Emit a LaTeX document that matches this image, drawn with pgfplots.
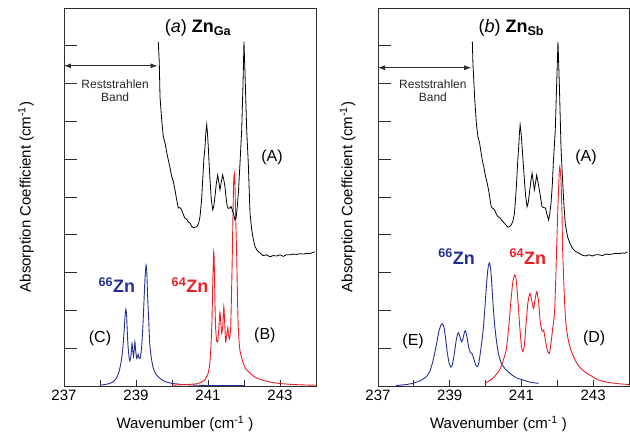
\documentclass[border=0pt]{standalone}
\usepackage{fontspec}
\setmainfont{Liberation Sans}
\usepackage{pgfplots}
\pgfplotsset{compat=1.18}
\usetikzlibrary{arrows.meta}

\definecolor{zblue}{RGB}{38,48,148}
\definecolor{zred}{RGB}{236,30,38}
\definecolor{frame}{RGB}{45,45,45}

\pgfplotsset{
  panel/.style={
    scale only axis,
    width=252pt, height=378pt,
    xmin=237, xmax=244, ymin=0, ymax=10,
    xtick={237,...,244},
    xticklabels={237,,239,,241,,243,},
    ytick={1,...,9},
    yticklabels={},
    xtick pos=left,
    ytick pos=left,
    tick align=inside,
    major tick length=6pt,
    axis line style={frame, line width=0.9pt},
    every tick/.style={frame, line width=0.9pt},
    tick label style={font=\fontsize{15}{18}\selectfont},
    /pgf/number format/assume math mode=true,
    label style={font=\fontsize{15}{18}\selectfont},
    xlabel={Wavenumber (cm\textsuperscript{-1} )},
    ylabel={Absorption Coefficient (cm\textsuperscript{-1})},
    xlabel style={at={(axis description cs:0.48,-0.1)}, anchor=center},
  },
  spec/.style={black, line width=0.8pt},
  syn/.style={line width=0.9pt, smooth, tension=0.35},
}

\begin{document}
\begin{tikzpicture}
\useasboundingbox (0,0) rectangle (630pt,437pt);

% ---------------- (a) Zn_Ga ----------------
\begin{axis}[panel, at={(64pt,51pt)}, anchor=south west,
  ylabel style={at={(axis description cs:-0.151,0.5)}, anchor=center}]

% longer y ticks
\pgfplotsinvokeforeach{1,...,9}{\draw[frame, line width=0.9pt] (axis cs:237,#1) -- (axis cs:237.36,#1);}

% (C) 66Zn calculated
\addplot[syn, zblue] coordinates {
(238.0,0.02) (238.2,0.05) (238.35,0.10) (238.45,0.20) (238.52,0.35)
(238.58,0.60) (238.63,0.95) (238.67,1.45) (238.70,1.90) (238.72,2.03)
(238.74,1.85) (238.76,1.40) (238.78,1.04) (238.81,0.75) (238.83,0.66)
(238.86,0.80) (238.89,1.13) (238.91,0.95) (238.93,0.78) (238.95,0.95)
(238.97,1.17) (238.99,0.95) (239.02,0.73) (239.04,0.78) (239.06,0.84)
(239.08,0.76) (239.11,0.72) (239.15,0.95) (239.19,1.55) (239.22,2.20)
(239.25,2.85) (239.28,3.20) (239.30,3.00) (239.32,2.45) (239.35,1.80)
(239.38,1.15) (239.42,0.78) (239.48,0.47) (239.56,0.30) (239.67,0.20)
(239.80,0.12) (240.0,0.07) (240.3,0.04) (240.7,0.02) (241.2,0.01) (242.0,0.01)
};

% (B) 64Zn calculated
\addplot[syn, zred] coordinates {
(240.0,0.02) (240.4,0.04) (240.7,0.06) (240.9,0.15) (241.0,0.32)
(241.05,0.60) (241.08,1.00) (241.11,1.70) (241.13,2.60) (241.15,3.40)
(241.16,3.55) (241.17,3.40) (241.19,2.40) (241.21,1.57) (241.24,1.20)
(241.27,1.17) (241.30,1.50) (241.33,1.95) (241.35,1.75) (241.38,1.39)
(241.41,1.60) (241.44,2.10) (241.46,1.75) (241.49,1.17) (241.52,1.35)
(241.55,1.55) (241.57,1.35) (241.60,1.25) (241.63,1.55) (241.65,2.30)
(241.67,3.20) (241.69,4.30) (241.71,5.30) (241.73,5.63) (241.75,5.30)
(241.77,4.40) (241.80,3.33) (241.82,2.30) (241.84,1.57) (241.87,1.10)
(241.90,0.88) (241.98,0.60) (242.05,0.45) (242.17,0.34) (242.30,0.24)
(242.49,0.16) (242.8,0.09) (243.2,0.05) (243.6,0.03) (244.0,0.02)
};

% (A) measured
\addplot[spec] coordinates {
(239.619,9.11) (239.647,8.55) (239.667,7.65) (239.714,7.04) (239.758,6.60)
(239.806,6.43) (239.85,6.20) (239.897,5.98) (239.94,5.80) (239.992,5.54)
(240.04,5.40) (240.083,5.19) (240.131,4.92) (240.175,4.71) (240.22,4.72)
(240.269,4.66) (240.32,4.52) (240.361,4.44) (240.42,4.40) (240.46,4.33)
(240.5,4.31) (240.55,4.22) (240.592,4.19) (240.64,4.20) (240.686,4.21)
(240.74,4.30) (240.778,4.48) (240.82,4.90) (240.853,5.45) (240.885,6.00)
(240.917,6.33) (240.94,6.70) (240.964,6.91) (240.985,6.70) (241.008,6.33)
(241.03,5.90) (241.056,5.45) (241.09,4.95) (241.131,4.66) (241.16,4.75)
(241.194,5.01) (241.23,5.35) (241.269,5.58) (241.30,5.40) (241.333,5.19)
(241.37,5.40) (241.408,5.58) (241.44,5.45) (241.472,5.27) (241.50,5.00)
(241.536,4.74) (241.57,4.70) (241.611,4.71) (241.64,4.75) (241.675,4.66)
(241.71,4.55) (241.75,4.39) (241.78,4.45) (241.814,4.74) (241.85,5.20)
(241.889,5.90) (241.936,6.77) (241.97,7.90) (242.0,9.11) (242.04,7.90)
(242.075,6.77) (242.119,5.90) (242.167,4.58) (242.214,4.13) (242.26,3.88)
(242.306,3.69) (242.37,3.58) (242.444,3.52) (242.53,3.45) (242.631,3.47)
(242.72,3.42) (242.81,3.45) (242.908,3.44) (243.0,3.47) (243.09,3.43)
(243.18,3.47) (243.278,3.47) (243.37,3.49) (243.46,3.48) (243.55,3.50)
(243.647,3.49) (243.74,3.51) (243.83,3.50) (243.90,3.53) (243.972,3.55)
};

\node[font=\fontsize{18}{20}\selectfont] at (axis cs:240.72,9.48) {(\textit{a}) \textbf{Zn\textsubscript{Ga}}};
\draw[{Latex[length=7pt,width=5pt]}-{Latex[length=7pt,width=5pt]}, line width=0.8pt, frame] (axis cs:237,8.47) -- (axis cs:239.6,8.47);
\node[align=center, font=\fontsize{12}{13}\selectfont, text=black!85] at (axis cs:238.42,7.80) {Reststrahlen\\Band};
\node[font=\fontsize{16}{18}\selectfont] at (axis cs:242.78,6.06) {(A)};
\node[font=\fontsize{16}{18}\selectfont] at (axis cs:242.58,1.35) {(B)};
\node[font=\fontsize{16}{18}\selectfont] at (axis cs:238.0,1.27) {(C)};
\node[font=\fontsize{18}{20}\selectfont\bfseries, text=zblue] at (axis cs:238.47,2.67) {\textsuperscript{66}Zn};
\node[font=\fontsize{18}{20}\selectfont\bfseries, text=zred] at (axis cs:240.5,2.67) {\textsuperscript{64}Zn};
\end{axis}

% ---------------- (b) Zn_Sb ----------------
\begin{axis}[panel, at={(378pt,51pt)}, anchor=south west, width=251pt,
  ylabel style={at={(axis description cs:-0.121,0.5)}, anchor=center}]

\pgfplotsinvokeforeach{1,...,9}{\draw[frame, line width=0.9pt] (axis cs:237,#1) -- (axis cs:237.36,#1);}

% (E) 66Zn calculated
\addplot[syn, zblue] coordinates {
(237.5,0.01) (237.8,0.04) (238.0,0.08) (238.2,0.15) (238.35,0.25)
(238.45,0.40) (238.54,0.69) (238.62,1.05) (238.70,1.45) (238.76,1.62)
(238.80,1.65) (238.84,1.55) (238.88,1.30) (238.93,0.90) (238.98,0.62)
(239.03,0.50) (239.07,0.55) (239.12,0.80) (239.18,1.20) (239.22,1.38)
(239.25,1.41) (239.29,1.28) (239.33,1.17) (239.37,1.25) (239.41,1.42)
(239.44,1.46) (239.48,1.30) (239.53,1.02) (239.58,0.88) (239.62,0.86)
(239.67,0.72) (239.73,0.55) (239.78,0.51) (239.82,0.65) (239.86,0.92)
(239.90,1.20) (239.94,1.55) (239.98,2.05) (240.02,2.60) (240.06,3.05)
(240.10,3.26) (240.13,3.18) (240.16,2.90) (240.20,2.28) (240.25,1.65)
(240.30,1.22) (240.36,0.85) (240.44,0.60) (240.55,0.45) (240.67,0.34)
(240.85,0.22) (241.04,0.16) (241.25,0.10) (241.48,0.07)
};

% (D) 64Zn calculated
\addplot[syn, zred] coordinates {
(240.0,0.08) (240.2,0.20) (240.39,0.42) (240.50,0.70) (240.58,0.98)
(240.65,1.60) (240.71,2.28) (240.76,2.75) (240.81,2.94) (240.85,2.85)
(240.90,2.30) (240.95,1.60) (241.00,1.05) (241.04,0.91) (241.08,1.05)
(241.13,1.65) (241.18,2.20) (241.24,2.45) (241.30,2.20) (241.34,2.05)
(241.39,2.35) (241.43,2.50) (241.48,2.20) (241.53,1.65) (241.58,1.45)
(241.62,1.48) (241.67,1.20) (241.73,0.92) (241.78,0.86) (241.82,1.10)
(241.87,1.50) (241.92,1.90) (241.95,2.60) (241.98,3.60) (242.02,4.80)
(242.05,5.55) (242.07,5.80) (242.10,5.50) (242.13,4.60) (242.15,3.60)
(242.20,2.30) (242.24,1.66) (242.30,1.25) (242.38,0.95) (242.50,0.68)
(242.61,0.51) (242.80,0.35) (242.98,0.25) (243.14,0.16) (243.4,0.10)
(243.7,0.06) (244.0,0.04)
};

% (A) measured
\addplot[spec] coordinates {
(239.631,9.11) (239.647,8.55) (239.694,7.65) (239.742,6.96) (239.786,6.60)
(239.833,6.43) (239.87,6.20) (239.908,5.98) (239.95,5.80) (240.0,5.54)
(240.05,5.35) (240.092,5.14) (240.158,4.74) (240.20,4.70) (240.25,4.66)
(240.30,4.55) (240.342,4.48) (240.40,4.45) (240.481,4.35) (240.55,4.28)
(240.619,4.20) (240.67,4.22) (240.714,4.26) (240.76,4.35) (240.806,4.57)
(240.84,5.00) (240.869,5.45) (240.90,6.00) (240.925,6.33) (240.945,6.70)
(240.964,6.91) (240.99,6.70) (241.019,6.33) (241.05,5.90) (241.083,5.45)
(241.12,5.00) (241.158,4.74) (241.19,4.85) (241.222,5.10) (241.26,5.40)
(241.297,5.63) (241.33,5.40) (241.361,5.19) (241.39,5.35) (241.425,5.58)
(241.46,5.40) (241.50,5.19) (241.54,4.95) (241.575,4.74) (241.62,4.72)
(241.667,4.71) (241.71,4.55) (241.758,4.39) (241.79,4.55) (241.825,4.83)
(241.86,5.30) (241.889,5.89) (241.944,6.77) (241.98,7.90) (242.019,9.11)
(242.06,7.90) (242.103,6.33) (242.147,5.45) (242.185,4.80) (242.222,4.30)
(242.286,3.95) (242.35,3.78) (242.425,3.64) (242.52,3.55) (242.611,3.51)
(242.70,3.46) (242.797,3.44) (242.88,3.47) (242.98,3.44) (243.07,3.47)
(243.167,3.47) (243.26,3.45) (243.35,3.49) (243.44,3.48) (243.536,3.49)
(243.63,3.51) (243.72,3.50) (243.81,3.52) (243.88,3.51) (243.953,3.55)
};

\node[font=\fontsize{18}{20}\selectfont] at (axis cs:240.72,9.48) {(\textit{b}) \textbf{Zn\textsubscript{Sb}}};
\draw[{Latex[length=7pt,width=5pt]}-{Latex[length=7pt,width=5pt]}, line width=0.8pt, frame] (axis cs:237,8.42) -- (axis cs:239.6,8.42);
\node[align=center, font=\fontsize{12}{13}\selectfont, text=black!85] at (axis cs:238.53,7.80) {Reststrahlen\\Band};
\node[font=\fontsize{16}{18}\selectfont] at (axis cs:242.8,6.06) {(A)};
\node[font=\fontsize{16}{18}\selectfont] at (axis cs:243.03,1.27) {(D)};
\node[font=\fontsize{16}{18}\selectfont] at (axis cs:237.98,1.17) {(E)};
\node[font=\fontsize{18}{20}\selectfont\bfseries, text=zblue] at (axis cs:239.19,3.42) {\textsuperscript{66}Zn};
\node[font=\fontsize{18}{20}\selectfont\bfseries, text=zred] at (axis cs:241.18,3.42) {\textsuperscript{64}Zn};
\end{axis}
\end{tikzpicture}
\end{document}
